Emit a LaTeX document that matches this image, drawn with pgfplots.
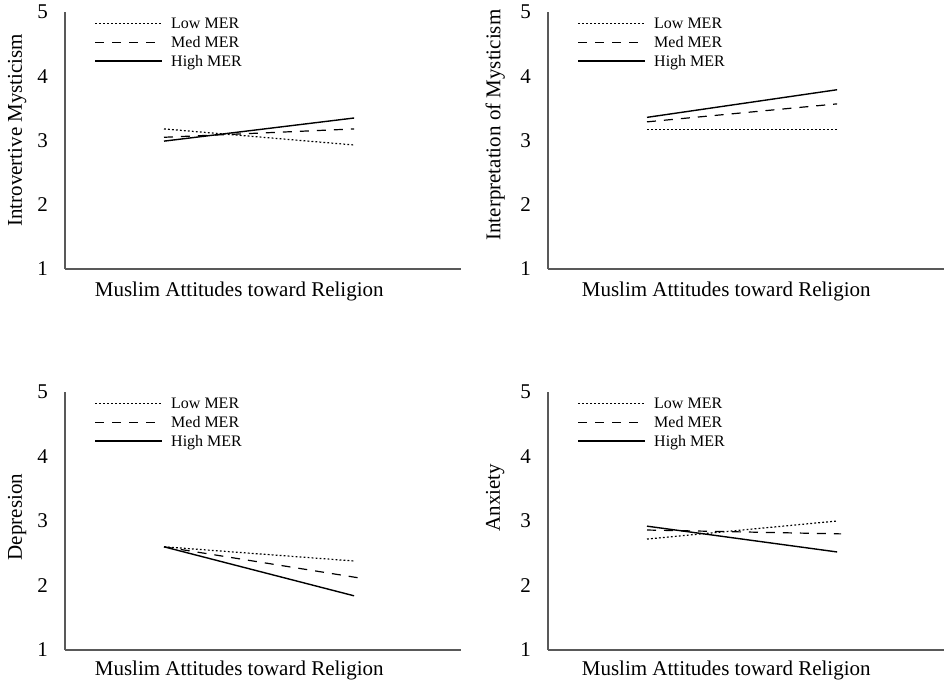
\documentclass[border=0pt]{standalone}
\usepackage{fontspec}
\setmainfont{Liberation Serif}
\usepackage{pgfplots}
\pgfplotsset{compat=1.18}

\pgfplotsset{
  panel/.style={
    scale only axis,
    width=198pt, height=128.5pt,
    xmin=0, xmax=1, ymin=1, ymax=5,
    axis lines=left,
    axis line style={-, draw=black!65, line width=0.8pt},
    xtick=\empty, ytick={1,2,3,4,5},
    major tick length=0pt,
    /pgf/number format/assume math mode=true,
    tick label style={font=\fontsize{10.5}{12}\selectfont},
    yticklabel style={xshift=-5pt},
    label style={font=\fontsize{10.5}{12}\selectfont},
    xlabel={Muslim Attitudes toward Religion},
    clip=false,
    legend style={draw=none, fill=none, at={(axis description cs:0,1)},
      anchor=north west, xshift=14.5pt, yshift=-1.5pt,
      font=\fontsize{8}{9.5}\selectfont, row sep=1pt, inner sep=0pt,
      nodes={inner sep=1.2pt, text depth=0.5pt}},
    legend cell align=left,
    legend image code/.code={\draw[##1] (0pt,0pt) -- (33.5pt,0pt); \path (36.5pt,0pt);},
  },
  low/.style={black, line width=0.6pt, dash pattern=on 0.9pt off 1.1pt},
  med/.style={black, line width=0.6pt, dash pattern=on 4.5pt off 4pt},
  high/.style={black, line width=0.7pt},
}

\begin{document}
\begin{tikzpicture}
\useasboundingbox (0,0) rectangle (473pt,342pt);

% top left
\begin{axis}[panel, at={(32.5pt,207.5pt)}, anchor=south west,
  ylabel={Introvertive Mysticism},
  ylabel style={at={(axis description cs:-0.121,0.54)}, anchor=center},
  xlabel style={at={(axis description cs:0.44,0)}, anchor=center, yshift=-11pt}]
\addplot[low] coordinates {(0.25,3.18) (0.73,2.93)};
\addplot[med] coordinates {(0.25,3.05) (0.73,3.18)};
\addplot[high] coordinates {(0.25,2.99) (0.73,3.35)};
\legend{Low MER, Med MER, High MER}
\end{axis}

% top right
\begin{axis}[panel, at={(274pt,207.5pt)}, anchor=south west,
  ylabel={Interpretation of Mysticism},
  ylabel style={at={(axis description cs:-0.1335,0.56)}, anchor=center},
  xlabel style={at={(axis description cs:0.45,0)}, anchor=center, yshift=-11pt}]
\addplot[low] coordinates {(0.25,3.17) (0.73,3.17)};
\addplot[med] coordinates {(0.25,3.29) (0.73,3.57)};
\addplot[high] coordinates {(0.25,3.36) (0.73,3.79)};
\legend{Low MER, Med MER, High MER}
\end{axis}

% bottom left
\begin{axis}[panel, at={(32.5pt,17pt)}, anchor=south west, height=129pt,
  ylabel={Depresion},
  ylabel style={at={(axis description cs:-0.121,0.515)}, anchor=center},
  xlabel style={at={(axis description cs:0.44,0)}, anchor=center, yshift=-10pt}]
\addplot[low] coordinates {(0.25,2.60) (0.73,2.38)};
\addplot[med] coordinates {(0.25,2.60) (0.74,2.12)};
\addplot[high] coordinates {(0.25,2.60) (0.73,1.84)};
\legend{Low MER, Med MER, High MER}
\end{axis}

% bottom right
\begin{axis}[panel, at={(274pt,17pt)}, anchor=south west, height=129pt,
  ylabel={Anxiety},
  ylabel style={at={(axis description cs:-0.1335,0.59)}, anchor=center},
  xlabel style={at={(axis description cs:0.45,0)}, anchor=center, yshift=-10pt}]
\addplot[low] coordinates {(0.25,2.72) (0.73,3.00)};
\addplot[med] coordinates {(0.25,2.86) (0.74,2.80)};
\addplot[high] coordinates {(0.25,2.92) (0.73,2.52)};
\legend{Low MER, Med MER, High MER}
\end{axis}
\end{tikzpicture}
\end{document}
